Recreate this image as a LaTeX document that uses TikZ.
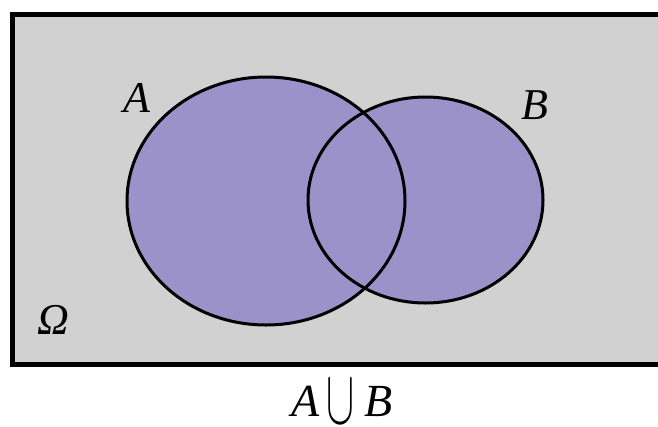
\documentclass[tikz,border=0pt]{standalone}
\usepackage{fontspec}
\setmainfont{Liberation Serif}
\begin{document}
\begin{tikzpicture}[x=1pt,y=-1pt,
  setline/.style={draw=black,line width=3pt},
  lbl/.style={font=\fontsize{44}{50}\selectfont\itshape,inner sep=0pt,anchor=base}]
\definecolor{setpurple}{HTML}{9A92C8}
\definecolor{bggray}{HTML}{D1D1D1}
\useasboundingbox (0,0) rectangle (658,426);
\begin{scope}
\clip (0,0) rectangle (658,426);
\draw[fill=bggray,line width=5pt] (12.5,14) rectangle (690,364);
\end{scope}
\fill[setpurple] (266,201) ellipse [x radius=139, y radius=124];
\fill[setpurple] (425.5,200) ellipse [x radius=117.5, y radius=103];
\draw[setline] (266,201) ellipse [x radius=139, y radius=124];
\draw[setline] (425.5,200) ellipse [x radius=117.5, y radius=103];
\node[lbl] (la) at (137,112) {A};
\node[lbl] (lb) at (535,119) {B};
\node[lbl] (om) at (53,334) {Ω};
\node[lbl,font=\fontsize{46}{52}\selectfont\itshape] (u) at (342,416) {A\hspace{6pt}\raisebox{-7pt}{\resizebox{28pt}{43pt}{$\cup$}}\hspace{10pt}B};
\end{tikzpicture}
\end{document}
